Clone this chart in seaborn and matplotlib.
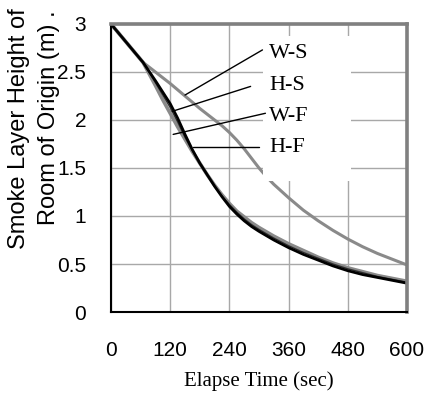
import numpy as np
import pandas as pd
import matplotlib
matplotlib.use("Agg")
import matplotlib.pyplot as plt
from matplotlib.patches import Rectangle
import seaborn as sns

# values
time_ws = [0, 65, 90, 120, 150, 180, 210, 225, 240, 255, 270, 285, 300, 315, 330, 345,
           360, 390, 420, 450, 480, 510, 540, 570, 600]
height_ws = [3.0, 2.6, 2.50, 2.38, 2.25, 2.12, 2.00, 1.94, 1.87, 1.79, 1.70, 1.60, 1.50,
             1.41, 1.33, 1.26, 1.19, 1.06, 0.95, 0.85, 0.76, 0.68, 0.61, 0.55, 0.49]

time_f = [0, 65, 90, 105, 120, 135, 150, 165, 180, 195, 210, 225, 240, 255, 270,
          285, 300, 330, 360, 390, 420, 450, 480, 510, 540, 570, 600]
height_wf = [3.0, 2.6, 2.36, 2.21, 2.07, 1.93, 1.80, 1.67, 1.55, 1.43, 1.32, 1.22,
             1.13, 1.05, 0.99, 0.93, 0.88, 0.79, 0.71, 0.64, 0.57, 0.51, 0.46, 0.42,
             0.38, 0.35, 0.32]
height_hs = [3.0, 2.6, 2.39, 2.26, 2.13, 1.98, 1.82, 1.68, 1.55, 1.43, 1.31, 1.21,
             1.12, 1.04, 0.97, 0.91, 0.86, 0.77, 0.69, 0.62, 0.56, 0.50, 0.45, 0.41,
             0.37, 0.34, 0.31]
height_hf = [3.0, 2.6, 2.41, 2.29, 2.17, 2.02, 1.85, 1.69, 1.55, 1.43, 1.31, 1.20,
             1.10, 1.02, 0.95, 0.89, 0.84, 0.75, 0.67, 0.60, 0.54, 0.48, 0.43, 0.39,
             0.36, 0.33, 0.30]

series_names = ["W-S", "H-S", "W-F", "H-F"]
xticks = [0, 120, 240, 360, 480, 600]
yticks = [0, 0.5, 1, 1.5, 2, 2.5, 3]
ytick_labels = ["0", "0.5", "1", "1.5", "2", "2.5", "3"]

# label anchor (text) and curve points for the leader lines
label_pos = [(321, 2.69), (321, 2.36), (321, 2.04), (321, 1.71)]
leader_start = [(307, 2.73), (283, 2.35), (313, 2.07), (299, 1.72)]
leader_end = [(150, 2.26), (124, 2.09), (126, 1.85), (167, 1.72)]

sns.set_style("white")
plt.rcParams.update({"text.color": "black", "axes.labelcolor": "black",
                     "xtick.color": "black", "ytick.color": "black"})

fig = plt.figure(figsize=(4.26, 3.98), dpi=100)
ax = fig.add_axes([111 / 426, 1 - 312 / 398, 296 / 426, 288 / 398])

df_ws = pd.DataFrame({"t": time_ws, "h": height_ws})
df_wf = pd.DataFrame({"t": time_f, "h": height_wf})
df_hs = pd.DataFrame({"t": time_f, "h": height_hs})
df_hf = pd.DataFrame({"t": time_f, "h": height_hf})

sns.lineplot(data=df_ws, x="t", y="h", ax=ax, color="#8a8a8a", lw=2.2, zorder=2)
sns.lineplot(data=df_wf, x="t", y="h", ax=ax, color="#8a8a8a", lw=2.6, zorder=2)
sns.lineplot(data=df_hs, x="t", y="h", ax=ax, color="#303030", lw=1.0, zorder=2)
sns.lineplot(data=df_hf, x="t", y="h", ax=ax, color="black", lw=2.0, zorder=2)

ax.set_xlim(0, 600)
ax.set_ylim(0, 3)
ax.set_xticks(xticks)
ax.set_yticks(yticks)
ax.set_xticklabels([str(v) for v in xticks], family="Liberation Sans", fontsize=15)
ax.set_yticklabels(ytick_labels, family="Liberation Sans", fontsize=15)
ax.tick_params(axis="x", direction="in", length=6, color="black", pad=21)
ax.tick_params(axis="y", direction="in", length=6, color="black", pad=18)
ax.grid(True, color="#a8a8a8", lw=1.0, zorder=0)
ax.set_axisbelow(True)

for side in ["left", "bottom"]:
    ax.spines[side].set_color("black")
    ax.spines[side].set_linewidth(1.5)
for side in ["top", "right"]:
    ax.spines[side].set_color("#808080")
    ax.spines[side].set_linewidth(2.6)

ax.set_xlabel("Elapse Time (sec)", family="Liberation Serif", fontsize=15, labelpad=8)
ax.set_ylabel("")

# white box behind the labels
ax.add_patch(Rectangle((309, 1.36), 177, 1.52, facecolor="white", edgecolor="none", zorder=3))

for name, tp, ls, le in zip(series_names, label_pos, leader_start, leader_end):
    ax.plot([ls[0], le[0]], [ls[1], le[1]], color="black", lw=1.0, zorder=4)
    ax.text(tp[0], tp[1], name, family="Liberation Serif", fontsize=16,
            ha="left", va="center", zorder=5)

fig.text(19 / 426, 1 - 8 / 398, "Smoke Layer Height of", rotation=90,
         ha="center", va="top", family="Liberation Sans", fontsize=17)
fig.text(49 / 426, 1 - 10 / 398, "Room of Origin (m) .", rotation=90,
         ha="center", va="top", family="Liberation Sans", fontsize=17)

fig.savefig("out.png", dpi=100, facecolor="white")
